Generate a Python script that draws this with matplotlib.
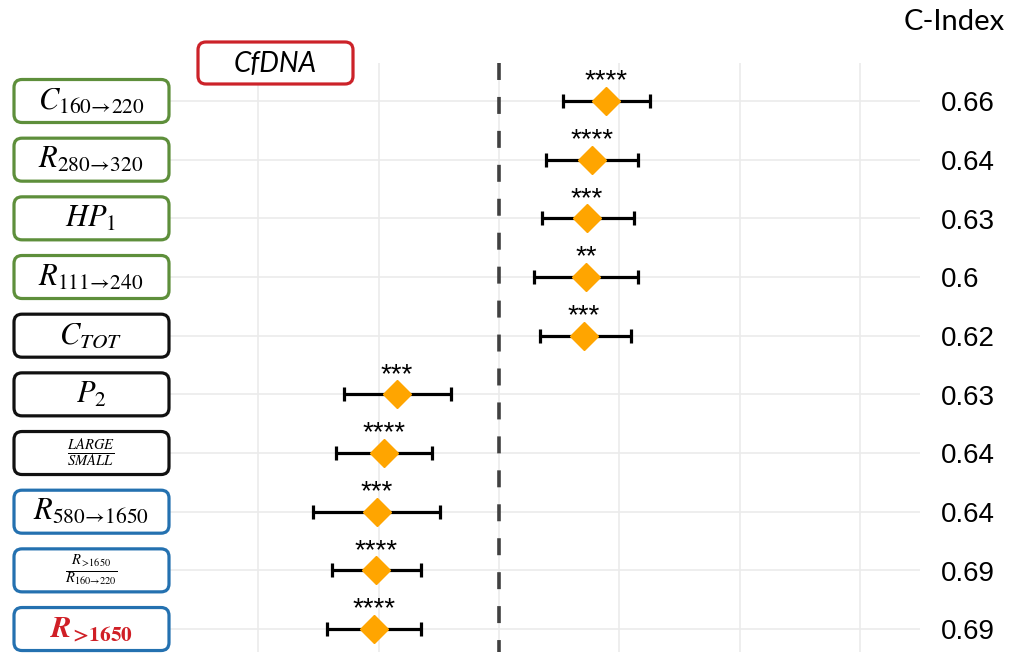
#=========================================================================
# Forest plot of fragmentomic features with C-Index column
#=========================================================================

import matplotlib
matplotlib.use('Agg')
import matplotlib.pyplot as plt
from matplotlib.patches import FancyBboxPatch

plt.rcParams['mathtext.fontset'] = 'stix'

# Data

labels = [r'$C_{160\!\rightarrow\! 220}$',
          r'$R_{280\!\rightarrow\! 320}$',
          r'$HP_1$',
          r'$R_{111\!\rightarrow\! 240}$',
          r'$C_{TOT}$',
          r'$P_2$',
          r'$\frac{LARGE}{SMALL}$',
          r'$R_{580\!\rightarrow\! 1650}$',
          r'$\frac{R_{>\!1650}}{R_{160\!\rightarrow\! 220}}$',
          r'$\mathbfit{R}_{\!\mathbf{>\!1650}}$']
label_sizes = [22, 22, 22, 22, 22, 22, 15, 22, 15, 22]
label_colors = ['black'] * 9 + ['#d01f26']
group = ['green'] * 4 + ['black'] * 3 + ['blue'] * 3
group_colors = {'green': '#5e8f3b', 'black': '#111111', 'blue': '#2471b0'}

estimate = [0.888, 0.772, 0.730, 0.722, 0.705, -0.846, -0.954, -1.012, -1.021, -1.037]
lower = [0.531, 0.390, 0.357, 0.290, 0.340, -1.286, -1.353, -1.544, -1.386, -1.427]
upper = [1.253, 1.154, 1.120, 1.154, 1.095, -0.398, -0.556, -0.490, -0.647, -0.647]
stars = ['****', '****', '***', '**', '***', '***', '****', '***', '****', '****']
cindex = ['0.66', '0.64', '0.63', '0.6', '0.62', '0.63', '0.64', '0.64', '0.69', '0.69']
grid_x = [-2, -1, 1, 2, 3]

# Layout (pixels)

W, H = 1011, 656
ax_left, ax_right, ax_top, ax_bot = 170, 920, 63, 652
zero_px, unit_px = 499, 120.5
row0_px, row_step = 101, 58.67

fig = plt.figure(figsize=(W / 100, H / 100), dpi=100)
ax = fig.add_axes([ax_left / W, 1 - ax_bot / H, (ax_right - ax_left) / W,
                   (ax_bot - ax_top) / H])

ax.set_xlim((ax_left - zero_px) / unit_px, (ax_right - zero_px) / unit_px)
ax.set_ylim((ax_bot - row0_px) / row_step, (ax_top - row0_px) / row_step)

n = len(labels)
rows = list(range(n))

# Grid lines

for i in rows:
    ax.axhline(i, color='#ebebeb', lw=1.2, zorder=0)
for gx in grid_x + [0]:
    ax.axvline(gx, color='#ebebeb', lw=1.2, zorder=0)

# Dashed reference line

ylo, yhi = ax.get_ylim()
ax.plot([0, 0], [yhi, ylo], color='#404040', lw=2.6,
        dashes=(4.7, 4.7), dash_capstyle='butt', zorder=1)

# Error bars and diamonds

xerr = [[e - l for e, l in zip(estimate, lower)],
        [u - e for e, u in zip(estimate, upper)]]
ax.errorbar(estimate, rows, xerr=xerr, fmt='none', ecolor='black',
            elinewidth=2.3, capsize=5, capthick=2.3, zorder=2)
ax.plot(estimate, rows, 'D', color='#ffa500', markersize=14, zorder=3)

# Stars and C-Index values

for i in rows:
    ax.annotate(stars[i], (estimate[i], i), xytext=(0, 9), textcoords='offset points',
                ha='center', va='baseline', fontsize=20, family='Liberation Sans')
    ax.annotate(cindex[i], (1, i), xycoords=('axes fraction', 'data'),
                xytext=(15, -7.5), textcoords='offset points',
                ha='left', va='baseline', fontsize=20, family='Liberation Sans')

for s in ax.spines.values():
    s.set_visible(False)
ax.set_xticks([])
ax.set_yticks([])

fig.text(1005 / W, 1 - 22 / H, 'C-Index', ha='right', va='center',
         fontsize=21, family='Lato')

# Overlay in pixel units for the label boxes

oax = fig.add_axes([0, 0, 1, 1], zorder=5)
oax.set_xlim(0, W)
oax.set_ylim(H, 0)
oax.axis('off')


def row_pixel(i):
    """Return the pixel row (from the top) of data row i."""
    return H - ax.transData.transform((0, i))[1]


box_h = 43
for i in rows:
    yc = row_pixel(i)
    box = FancyBboxPatch((14, yc - box_h / 2), 155, box_h,
                         boxstyle='round,pad=0,rounding_size=8',
                         facecolor='white', edgecolor=group_colors[group[i]],
                         lw=2.3, clip_on=False)
    oax.add_patch(box)
    oax.text(91, yc, labels[i], ha='center', va='center',
             fontsize=label_sizes[i], color=label_colors[i])

box = FancyBboxPatch((198, 42), 155, 42, boxstyle='round,pad=0,rounding_size=8',
                     facecolor='white', edgecolor='#cc2229', lw=2.3, clip_on=False)
oax.add_patch(box)
oax.text(275, 64, 'CfDNA', ha='center', va='center', fontsize=20,
         family='Lato', style='italic')

fig.savefig('out.png', dpi=100)
